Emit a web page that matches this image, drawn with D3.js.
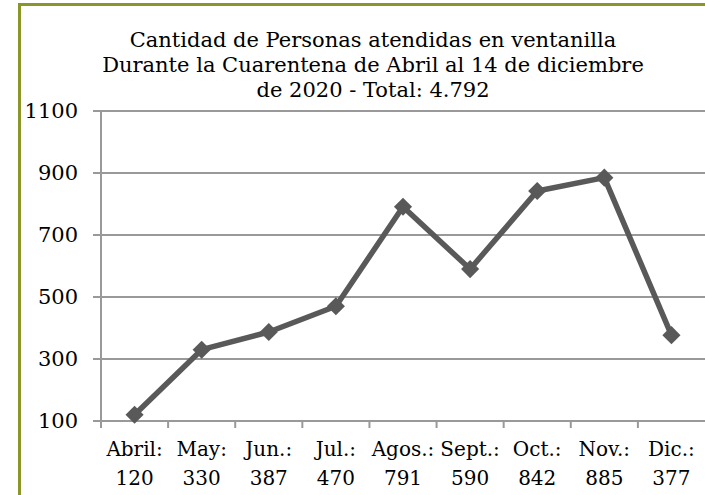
<!DOCTYPE html>
<html>
<head>
<meta charset="utf-8">
<script src="https://cdn.jsdelivr.net/npm/d3@7"></script>
<style>
  body { margin: 0; background: #fff; }
  text { font-family: "DejaVu Serif", "Liberation Serif", serif; fill: #000; }
</style>
</head>
<body>
<script>
// data
var months = ["Abril:", "May:", "Jun.:", "Jul.:", "Agos.:", "Sept.:", "Oct.:", "Nov.:", "Dic.:"];
var counts = [120, 330, 387, 470, 791, 590, 842, 885, 377];
var yTicks = [100, 300, 500, 700, 900, 1100];
var titleLines = [
    "Cantidad de Personas atendidas en ventanilla",
    "Durante la Cuarentena de Abril al 14 de diciembre",
    "de 2020 - Total: 4.792"
];

var width = 705, height = 495;
var margin = { top: 111, right: 0, bottom: 74, left: 101 };

var svg = d3.select("body").append("svg")
    .attr("width", width)
    .attr("height", height);

// frame
svg.append("path")
    .attr("d", "M19.5," + height + " L19.5,4.5 L" + width + ",4.5")
    .attr("fill", "none")
    .attr("stroke", "#8a9628")
    .attr("stroke-width", 3);

var x = d3.scaleBand()
    .domain(months)
    .range([margin.left, width - margin.right])
    .padding(0);

var y = d3.scaleLinear()
    .domain([100, 1100])
    .range([height - margin.bottom, margin.top]);

// gridlines
svg.append("g")
    .selectAll("line")
    .data(yTicks)
    .enter().append("line")
    .attr("x1", margin.left - 8)
    .attr("x2", width)
    .attr("y1", function (d) { return y(d); })
    .attr("y2", function (d) { return y(d); })
    .attr("stroke", "#999")
    .attr("stroke-width", 2);

// y axis line
svg.append("line")
    .attr("x1", margin.left).attr("x2", margin.left)
    .attr("y1", y(1100)).attr("y2", y(100) + 7)
    .attr("stroke", "#999")
    .attr("stroke-width", 2);

// x ticks
svg.append("g")
    .selectAll("line")
    .data(months.slice(1))
    .enter().append("line")
    .attr("x1", function (d) { return x(d); })
    .attr("x2", function (d) { return x(d); })
    .attr("y1", y(100))
    .attr("y2", y(100) + 7)
    .attr("stroke", "#999")
    .attr("stroke-width", 2);

// y labels
svg.append("g")
    .selectAll("text")
    .data(yTicks)
    .enter().append("text")
    .attr("x", 78)
    .attr("y", function (d) { return y(d); })
    .attr("dy", "0.35em")
    .attr("text-anchor", "end")
    .style("font-size", "21px")
    .text(function (d) { return d; });

// x labels, two lines
var xl = svg.append("g")
    .selectAll("text")
    .data(months)
    .enter().append("text")
    .attr("text-anchor", "middle")
    .style("font-size", "20px");
xl.append("tspan")
    .attr("x", function (d) { return x(d) + x.bandwidth() / 2; })
    .attr("y", 456)
    .text(function (d) { return d; });
xl.append("tspan")
    .attr("x", function (d) { return x(d) + x.bandwidth() / 2; })
    .attr("y", 485)
    .text(function (d, i) { return counts[i]; });

// line
var line = d3.line()
    .x(function (d, i) { return x(months[i]) + x.bandwidth() / 2; })
    .y(function (d) { return y(d); });

svg.append("path")
    .datum(counts)
    .attr("d", line)
    .attr("fill", "none")
    .attr("stroke", "#595959")
    .attr("stroke-width", 5.5)
    .attr("stroke-linejoin", "round");

svg.append("g")
    .selectAll("path")
    .data(counts)
    .enter().append("path")
    .attr("d", d3.symbol().type(d3.symbolDiamond2).size(210))
    .attr("transform", function (d, i) {
        return "translate(" + (x(months[i]) + x.bandwidth() / 2) + "," + y(d) + ")";
    })
    .attr("fill", "#595959");

// title
svg.append("text")
    .attr("text-anchor", "middle")
    .style("font-size", "21px")
    .selectAll("tspan")
    .data(titleLines)
    .enter().append("tspan")
    .attr("x", 373)
    .attr("y", function (d, i) { return 47 + i * 25; })
    .text(function (d) { return d; });
</script>
</body>
</html>
